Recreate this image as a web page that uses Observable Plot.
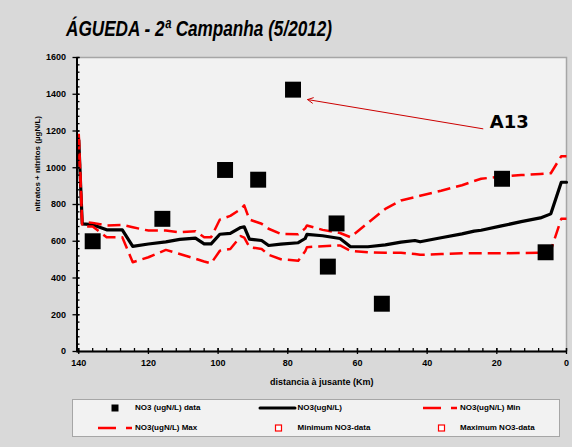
<!DOCTYPE html>
<html>
<head>
<meta charset="utf-8">
<script src="https://cdn.jsdelivr.net/npm/d3@7"></script>
<script src="https://cdn.jsdelivr.net/npm/@observablehq/plot@0.6"></script>
<style>
  html, body { margin: 0; padding: 0; background: #d9d9d9; }
  #page { position: relative; width: 572px; height: 447px; background: #d9d9d9; overflow: hidden; font-family: "Liberation Sans", Arial, sans-serif; }
  #title { position: relative; height: 45px; }
  #title span { position: absolute; left: 66px; top: 18px; font-size: 22px; line-height: 22px; font-weight: bold; font-style: italic; white-space: nowrap; transform: scaleX(0.78); transform-origin: left center; color: #000; }
  #chart { height: 350px; }
  #chart svg { display: block; }
  #legend { position: relative; height: 52px; }
  #legend .box { position: absolute; left: 72px; top: 4px; width: 486px; height: 36px; background: #f2f2f2; border: 1px solid #a6a6a6; }
  #legend .txt { position: absolute; font-size: 8px; line-height: 10px; font-weight: bold; white-space: nowrap; color: #000; }
  #legend svg { position: absolute; overflow: visible; }
</style>
</head>
<body>
<div id="page">
  <div id="title"><span>ÁGUEDA - 2ª Campanha (5/2012)</span></div>
  <div id="chart"></div>
  <div id="legend"><div class="box"></div></div>
</div>
<script>
// ---- data ----
const distance = [140, 139, 136, 132, 127.5, 124.5, 120, 115, 111, 106.5, 104, 102, 99.5, 96.5, 93.5, 92.5, 91, 87.5, 85.5, 82, 77, 75, 74.5, 70, 65, 62, 57, 52, 47.5, 43.5, 42, 36, 30, 26.5, 24.5, 19, 13, 7.5, 4.5, 1.5, 0];
const no3Mean = [1150, 695, 690, 662, 662, 572, 585, 597, 610, 617, 586, 586, 638, 643, 675, 678, 612, 604, 577, 584, 592, 615, 637, 630, 615, 570, 570, 580, 595, 604, 597, 619, 640, 655, 660, 682, 707, 727, 749, 921, 921];
const no3Max = [1185, 704, 700, 686, 689, 676, 658, 658, 649, 655, 622, 622, 718, 738, 775, 795, 718, 695, 668, 640, 638, 670, 686, 662, 645, 622, 700, 776, 822, 840, 848, 875, 905, 928, 940, 952, 960, 966, 970, 1063, 1063];
const no3Min = [1170, 680, 680, 622, 622, 486, 513, 553, 531, 505, 490, 480, 548, 558, 628, 620, 568, 558, 526, 502, 494, 545, 568, 573, 577, 548, 540, 537, 537, 530, 526, 530, 535, 535, 535, 535, 536, 537, 550, 722, 722];

const obsDistance = [136, 116, 98, 88.5, 78.5, 66, 68.5, 53, 18.5, 6];
const obsValue = [600, 722, 988, 935, 1425, 697, 462, 260, 940, 540];

const xMajorTicks = [140, 120, 100, 80, 60, 40, 20, 0];
const xMinorTicks = d3.range(0, 141, 4);
const yMajorTicks = [0, 200, 400, 600, 800, 1000, 1200, 1400, 1600];
const yMinorTicks = d3.range(0, 1601, 40);

const annotationLabel = ["A13"];
const annotationText = [{x: 22, y: 1246}];
const annotationArrow = [{x1: 24, y1: 1212, x2: 74.3, y2: 1371}];

const titleText = "ÁGUEDA - 2ª Campanha (5/2012)";
const xLabel = "distancia à jusante (Km)";
const yLabel = "nitratos + nitritos (µgN/L)";
const xDomainStart = 140.5;

// ---- build tables ----
const meanData = distance.map((d, i) => ({x: d, y: no3Mean[i]}));
const maxData = distance.map((d, i) => ({x: d, y: no3Max[i]}));
const minData = distance.map((d, i) => ({x: d, y: no3Min[i]}));
const obsData = obsDistance.map((d, i) => ({x: d, y: obsValue[i]}));

const dash = {stroke: "#ff0000", strokeWidth: 2.5, strokeDasharray: "13,6", strokeLinecap: "butt", strokeLinejoin: "round"};

const chart = Plot.plot({
  width: 572,
  height: 350,
  marginLeft: 76.5,
  marginRight: 6,
  marginTop: 12,
  marginBottom: 44,
  style: {background: "transparent", fontFamily: "'Liberation Sans', Arial, sans-serif", fontSize: "9px", fontWeight: "bold", color: "#000", overflow: "visible"},
  x: {domain: [xDomainStart, 0]},
  y: {domain: [0, 1600]},
  marks: [
    Plot.frame({fill: "#f2f2f2", stroke: "#a6a6a6", strokeWidth: 1.5}),
    Plot.line(meanData, {x: "x", y: "y", stroke: "#000", strokeWidth: 3.2, strokeLinejoin: "round"}),
    Plot.line(maxData, {x: "x", y: "y", ...dash}),
    Plot.line(minData, {x: "x", y: "y", ...dash}),
    Plot.dot(obsData, {x: "x", y: "y", symbol: "square", r: 9, fill: "#000", stroke: null}),
    Plot.arrow(annotationArrow, {x1: "x1", y1: "y1", x2: "x2", y2: "y2", stroke: "#cc0000", strokeWidth: 1, headLength: 9, headAngle: 55}),
    Plot.text(annotationText, {x: "x", y: "y", text: () => annotationLabel[0], textAnchor: "start", fontFamily: "'DejaVu Sans', sans-serif", fontSize: 18, fontWeight: "bold", fill: "#000"}),
    Plot.ruleY([0], {stroke: "#000", strokeWidth: 2}),
    Plot.ruleX([xDomainStart], {stroke: "#000", strokeWidth: 2}),
    Plot.axisY({ticks: yMajorTicks, tickSize: 4, tickPadding: 7, strokeWidth: 1.3, tickFormat: d => String(d), label: null}),
    Plot.axisY({ticks: yMajorTicks, tickSize: -3, strokeWidth: 1.3, text: null, label: null}),
    Plot.axisY({ticks: yMinorTicks, tickSize: -3, strokeWidth: 1.3, text: null, label: null}),
    Plot.axisX({ticks: xMajorTicks, tickSize: 3, tickPadding: 5, strokeWidth: 1.3, tickFormat: d => String(d), label: null}),
    Plot.axisX({ticks: xMajorTicks, tickSize: -3, strokeWidth: 1.3, text: null, label: null}),
    Plot.axisX({ticks: xMinorTicks, tickSize: -3, strokeWidth: 1.3, text: null, label: null}),
    Plot.text([xLabel], {frameAnchor: "bottom", dy: 33, text: d => d, fontSize: 9, fontWeight: "bold"}),
    Plot.text([yLabel], {frameAnchor: "left", dx: -40, dy: 7, rotate: -90, text: d => d, fontSize: 8, fontWeight: "bold"})
  ]
});
document.getElementById("chart").appendChild(chart);

// ---- legend ----
const legend = document.getElementById("legend");
const legendLabels = ["NO3 (ugN/L) data", "NO3(ugN/L)", "NO3(ugN/L) Min", "NO3(ugN/L) Max", "Minimum NO3-data", "Maximum NO3-data"];
const legendKinds = ["square", "line", "dash", "dash", "open", "open"];
const legendLayout = [
  {sx: 111, tx: 135, cy: 13},
  {sx: 260, tx: 297.5, cy: 13},
  {sx: 423, tx: 460, cy: 13},
  {sx: 98, tx: 135, cy: 32.5},
  {sx: 275, tx: 297.5, cy: 32.5},
  {sx: 437.5, tx: 460, cy: 32.5}
];
const NS = "http://www.w3.org/2000/svg";
legendLabels.forEach((label, i) => {
  const L = legendLayout[i];
  const svg = document.createElementNS(NS, "svg");
  svg.setAttribute("width", 40); svg.setAttribute("height", 10);
  svg.style.left = L.sx + "px"; svg.style.top = (L.cy - 5) + "px";
  const k = legendKinds[i];
  if (k === "square") {
    const r = document.createElementNS(NS, "rect");
    r.setAttribute("x", 0.5); r.setAttribute("y", 1.5); r.setAttribute("width", 7); r.setAttribute("height", 7); r.setAttribute("fill", "#000");
    svg.appendChild(r);
  } else if (k === "line") {
    const l = document.createElementNS(NS, "line");
    l.setAttribute("x1", 0); l.setAttribute("x2", 35); l.setAttribute("y1", 5); l.setAttribute("y2", 5);
    l.setAttribute("stroke", "#000"); l.setAttribute("stroke-width", 3); l.setAttribute("stroke-linecap", "round");
    svg.appendChild(l);
  } else if (k === "dash") {
    const l = document.createElementNS(NS, "line");
    l.setAttribute("x1", 0); l.setAttribute("x2", 34); l.setAttribute("y1", 5); l.setAttribute("y2", 5);
    l.setAttribute("stroke", "#ff0000"); l.setAttribute("stroke-width", 2.5); l.setAttribute("stroke-dasharray", "18,10");
    svg.appendChild(l);
  } else {
    const r = document.createElementNS(NS, "rect");
    r.setAttribute("x", 0.5); r.setAttribute("y", 2); r.setAttribute("width", 6); r.setAttribute("height", 6);
    r.setAttribute("fill", "#fff"); r.setAttribute("stroke", "#ff0000"); r.setAttribute("stroke-width", 1.2);
    svg.appendChild(r);
  }
  legend.appendChild(svg);
  const t = document.createElement("div");
  t.className = "txt";
  t.textContent = label;
  t.style.left = L.tx + "px";
  t.style.top = (L.cy - 5) + "px";
  legend.appendChild(t);
});
</script>
</body>
</html>
